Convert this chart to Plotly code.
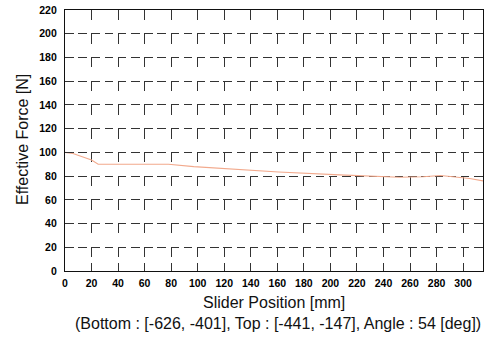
import plotly.graph_objects as go

# Effective force along the slider stroke
slider_pos_mm = [0, 6, 20, 25, 50, 78, 97, 123, 161, 207, 252, 270, 283, 305, 315]
effective_force_n = [100, 99, 93.5, 90, 90, 90, 88, 86, 83.5, 81, 79, 79.5, 80.5, 78, 76]

x_ticks = list(range(0, 301, 20))
y_ticks = list(range(0, 221, 20))

FONT = "Liberation Sans, Arial, sans-serif"
GRID = "#333333"

fig = go.Figure()
fig.add_trace(go.Scatter(
    x=slider_pos_mm, y=effective_force_n, mode="lines",
    line=dict(color="#f2a98c", width=1.1), showlegend=False,
))

axis_common = dict(
    showline=True, linecolor="#111", linewidth=1.2, mirror=True,
    ticks="inside", tickcolor=GRID, tickwidth=1.4,
    tickfont=dict(family=FONT, size=10.5, color="#000", weight="bold"),
    showgrid=True, gridcolor=GRID, gridwidth=1.4, zeroline=False,
)

fig.update_xaxes(range=[0, 315], tickvals=x_ticks, ticklen=8,
                 griddash="10px,13.7px", ticklabelstandoff=2, **axis_common)
fig.update_yaxes(range=[0, 220], tickvals=y_ticks, ticklen=7,
                 griddash="8.5px,4.7px", ticklabelstandoff=5, **axis_common)

L, R, T, B = 65, 4, 10, 67
W, H = 487, 338
pw, ph = W - L - R, H - T - B


def px_to_paper(px, py):
    return (px - L) / pw, (H - B - py) / ph


annots = []
ax, ay = px_to_paper(274, 302)
annots.append(dict(x=ax, y=ay, text="Slider Position [mm]"))
ax, ay = px_to_paper(278, 323)
annots.append(dict(x=ax, y=ay,
                   text="(Bottom : [-626, -401], Top : [-441, -147], Angle : 54 [deg])"))
ax, ay = px_to_paper(22, 140)
annots.append(dict(x=ax, y=ay, text="Effective Force [N]", textangle=-90))
for a in annots:
    a.update(xref="paper", yref="paper", showarrow=False,
             xanchor="center", yanchor="middle",
             font=dict(family=FONT, size=16, color="#111"))

fig.update_layout(
    width=W, height=H, margin=dict(l=L, r=R, t=T, b=B),
    paper_bgcolor="white", plot_bgcolor="white",
    annotations=annots,
)

fig.write_html("out.html")
